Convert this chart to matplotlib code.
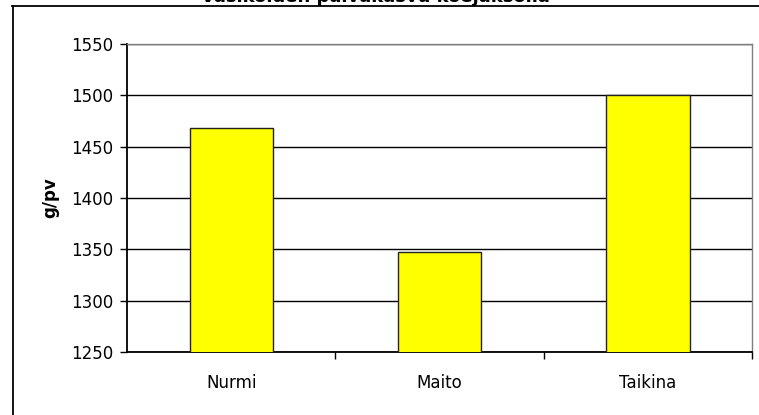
import matplotlib
matplotlib.use("Agg")
import matplotlib.pyplot as plt
from matplotlib.lines import Line2D

categories = ["Nurmi", "Maito", "Taikina"]
values = [1468, 1347, 1500]
y_ticks = [1250, 1300, 1350, 1400, 1450, 1500, 1550]
y_label = "g/pv"
title = "Vasikoiden päiväkasvu koejaksolla"

plt.rcParams["font.family"] = ["DejaVu Sans"]

W, H = 759, 415
fig = plt.figure(figsize=(W / 100, H / 100), dpi=100)

# outer chart frame (continues beyond the canvas on the right and bottom)
fig.add_artist(Line2D([12 / W, 1.0], [1 - 6.5 / H, 1 - 6.5 / H], transform=fig.transFigure,
                      color="black", lw=1.3))
fig.add_artist(Line2D([12.5 / W, 12.5 / W], [0, 1 - 6.5 / H], transform=fig.transFigure,
                      color="black", lw=1.3))

# chart title, largely above the top edge
fig.text(375 / W, 1 - 1.5 / H, title, ha="center", va="baseline",
         fontsize=13, fontweight="bold")

ax = fig.add_axes([127 / W, 63 / H, (752 - 127) / W, (352 - 44) / H])
x = list(range(len(categories)))
ax.bar(x, values, width=0.4, color="#FFFF00", edgecolor="#222222", linewidth=1.0,
       zorder=3)
ax.set_xlim(-0.5, len(categories) - 0.5)
ax.set_ylim(y_ticks[0], y_ticks[-1])
ax.set_yticks(y_ticks)
ax.set_yticklabels([str(v) for v in y_ticks], fontsize=12)
ax.yaxis.grid(True, color="black", linewidth=1.0, zorder=0)
ax.set_axisbelow(True)

ax.set_xticks(x)
ax.set_xticklabels(categories, fontsize=12)
ax.tick_params(axis="x", length=0, pad=16)
ax.set_xticks([0.5, 1.5, 2.5], minor=True)
ax.tick_params(axis="x", which="minor", length=5, width=1, color="black")
ax.tick_params(axis="y", length=5, width=1, pad=5)

for side in ["top", "right"]:
    ax.spines[side].set_color("#808080")
    ax.spines[side].set_linewidth(1.0)
for side in ["left", "bottom"]:
    ax.spines[side].set_color("black")
    ax.spines[side].set_linewidth(1.3)

ax.set_ylabel(y_label, fontsize=12, fontweight="bold", labelpad=8)

fig.savefig("out.png", dpi=100)
